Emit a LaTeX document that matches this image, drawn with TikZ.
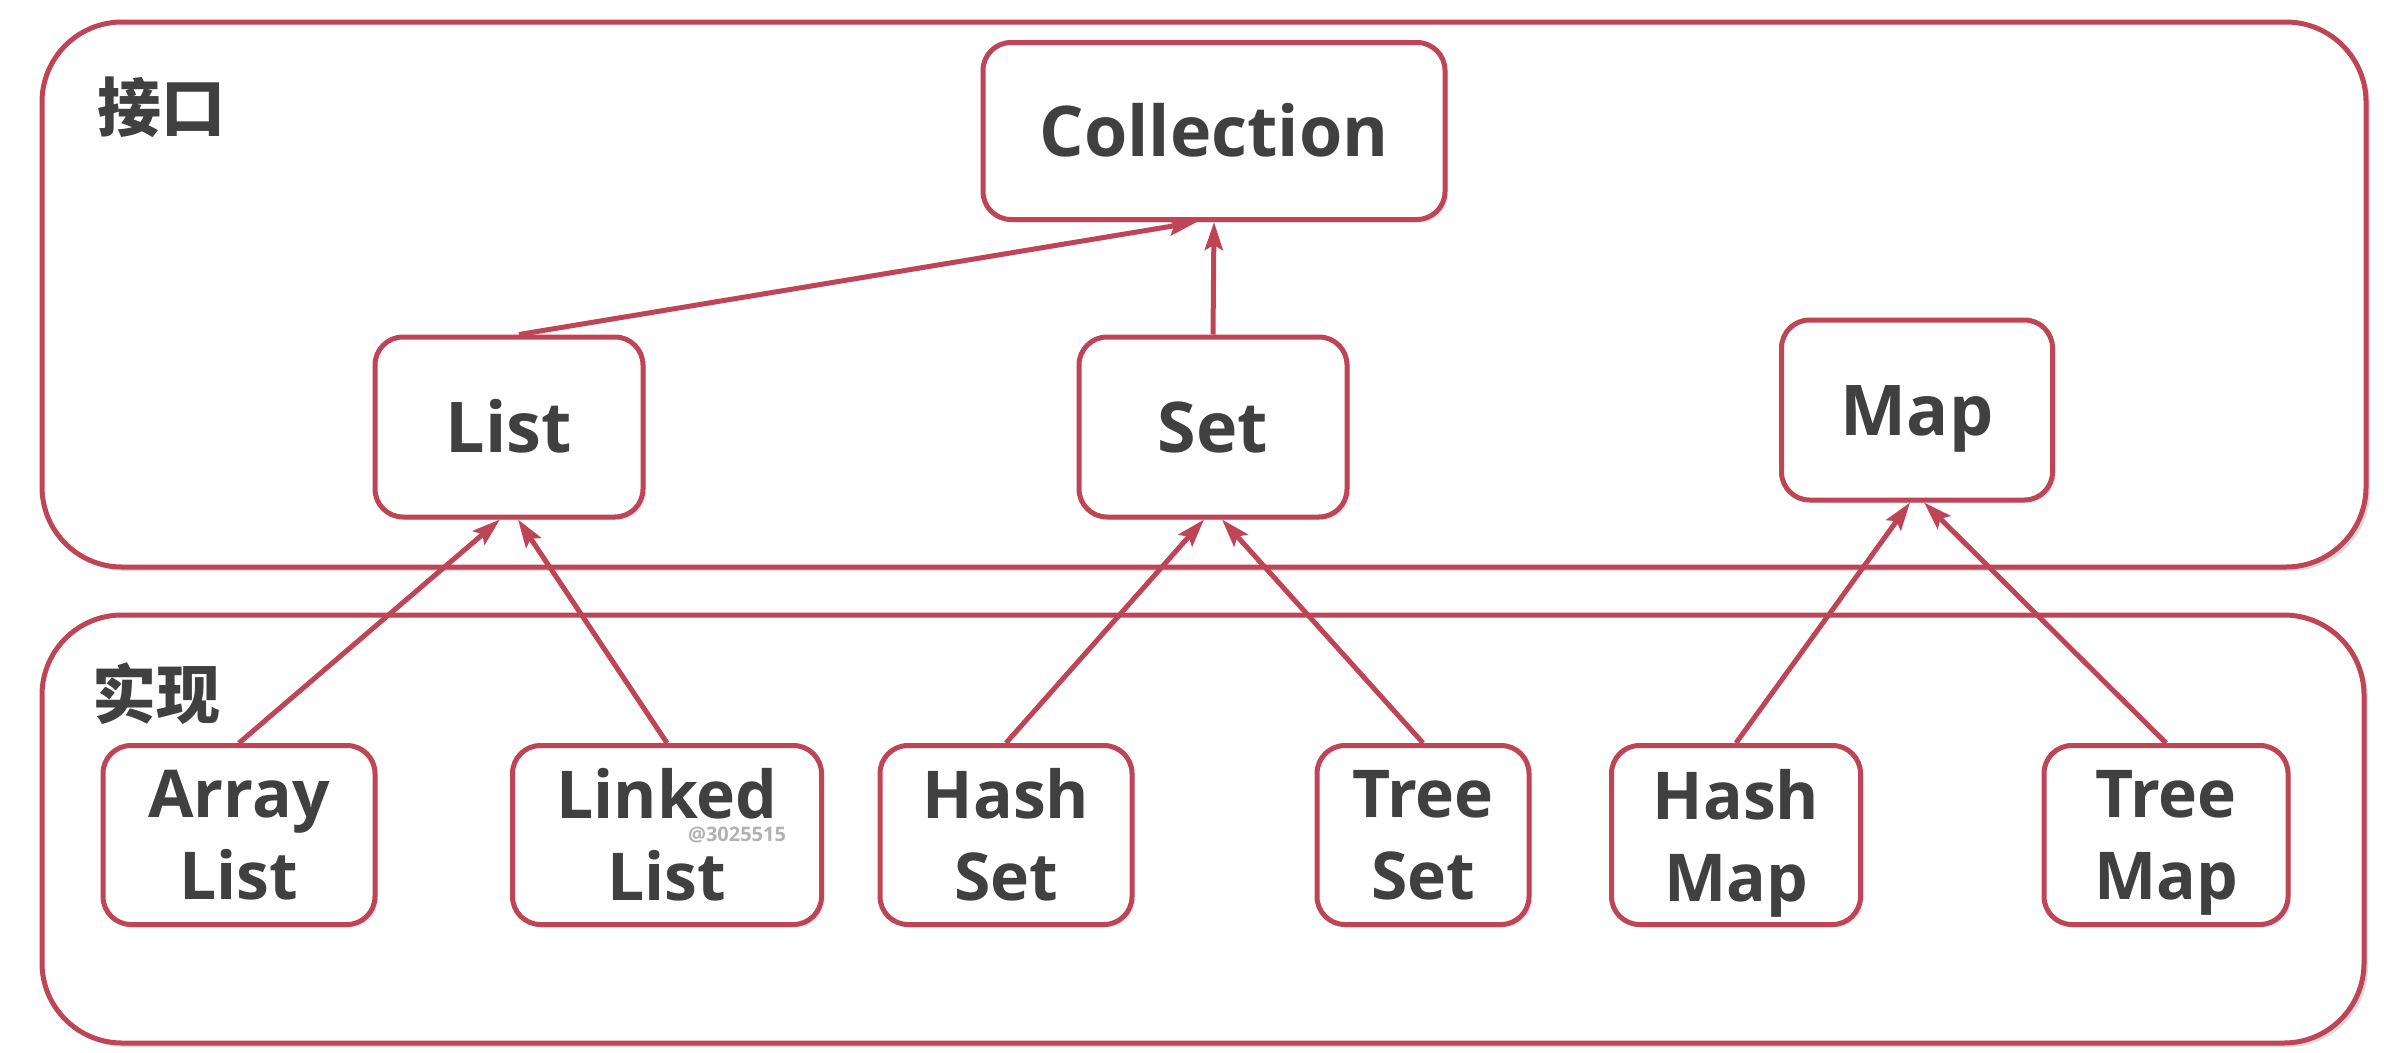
\documentclass[tikz,border=0pt]{standalone}
\usepackage{fontspec}
\setmainfont{Open Sans}
\newfontfamily\cjk{Noto Sans CJK SC}
\usetikzlibrary{arrows.meta,shadows}
\definecolor{rb}{RGB}{190,68,86}
\definecolor{tx}{RGB}{64,64,64}
\newcommand{\nodesc}[1]{\raisebox{0pt}[\height][0pt]{#1}}
\tikzset{
  container/.style={draw=rb, line width=5pt, rounded corners=80pt, fill=white, inner sep=0pt,
    drop shadow={opacity=0.28, shadow xshift=4pt, shadow yshift=-4pt}},
  box/.style={draw=rb, line width=5pt, rounded corners=28pt, fill=white, inner sep=0pt,
    text=tx, font=\fontsize{70}{84}\selectfont\bfseries, align=center,
    drop shadow={opacity=0.18, shadow xshift=3pt, shadow yshift=-3pt}},
  topbox/.style={box, text height=51pt, text depth=0pt},
  lowbox/.style={box, minimum height=179pt, font=\fontsize{66}{82}\selectfont\bfseries},
  lbl/.style={text=tx, font=\fontsize{64}{70}\selectfont\cjk\bfseries, inner sep=0pt},
  arr/.style={draw=rb, line width=5pt, -{Stealth[length=28pt,width=18pt,inset=5pt]}}
}
\begin{document}
\begin{tikzpicture}[x=1pt,y=-1pt]
\useasboundingbox[fill=white] (0,0) rectangle (2384,1052);
% containers
\node[container, minimum width=2324pt, minimum height=545pt] (top) at (1204,294.5) {};
\node[container, minimum width=2322pt, minimum height=428pt] (bot) at (1203,829) {};
\node[lbl] (lif) at (161,107) {接口};
\node[lbl] (limpl) at (156,694) {实现};
% interface nodes
\node[topbox, minimum width=462pt, minimum height=177pt] (coll) at (1214,131) {Collection};
\node[topbox, minimum width=268pt, minimum height=180pt] (list) at (509,427) {List};
\node[topbox, minimum width=268pt, minimum height=180pt] (set) at (1213,427) {Set};
\node[topbox, minimum width=271pt, minimum height=180pt] (map) at (1917,410) {Map};
% implementation nodes
\node[lowbox, minimum width=272pt] (al) at (239,835) {Array\\List};
\node[lowbox, minimum width=309pt] (ll) at (667,835) {Linked\\List};
\node[lowbox, minimum width=252pt] (hs) at (1006,835) {Hash\\Set};
\node[lowbox, minimum width=212pt] (ts) at (1423,835) {Tree\\Set};
\node[lowbox, minimum width=249pt] (hm) at (1736,835) {Hash\\\nodesc{Map}};
\node[lowbox, minimum width=244pt] (tm) at (2166,835) {Tree\\\nodesc{Map}};
\node[text=black!30, font=\fontsize{20}{22}\selectfont\bfseries, inner sep=0pt] (wm) at (737,835) {@3025515};
% connectors
\draw[arr] ([xshift=10pt]list.north) -- ([xshift=-17pt]coll.south);
\draw[arr] (set.north) -- (coll.south);
\draw[arr] (al.north) -- ([xshift=-9pt]list.south);
\draw[arr] (ll.north) -- ([xshift=9pt]list.south);
\draw[arr] (hs.north) -- ([xshift=-9pt]set.south);
\draw[arr] (ts.north) -- ([xshift=9pt]set.south);
\draw[arr] (hm.north) -- ([xshift=-7pt]map.south);
\draw[arr] (tm.north) -- ([xshift=7pt]map.south);
\end{tikzpicture}
\end{document}
